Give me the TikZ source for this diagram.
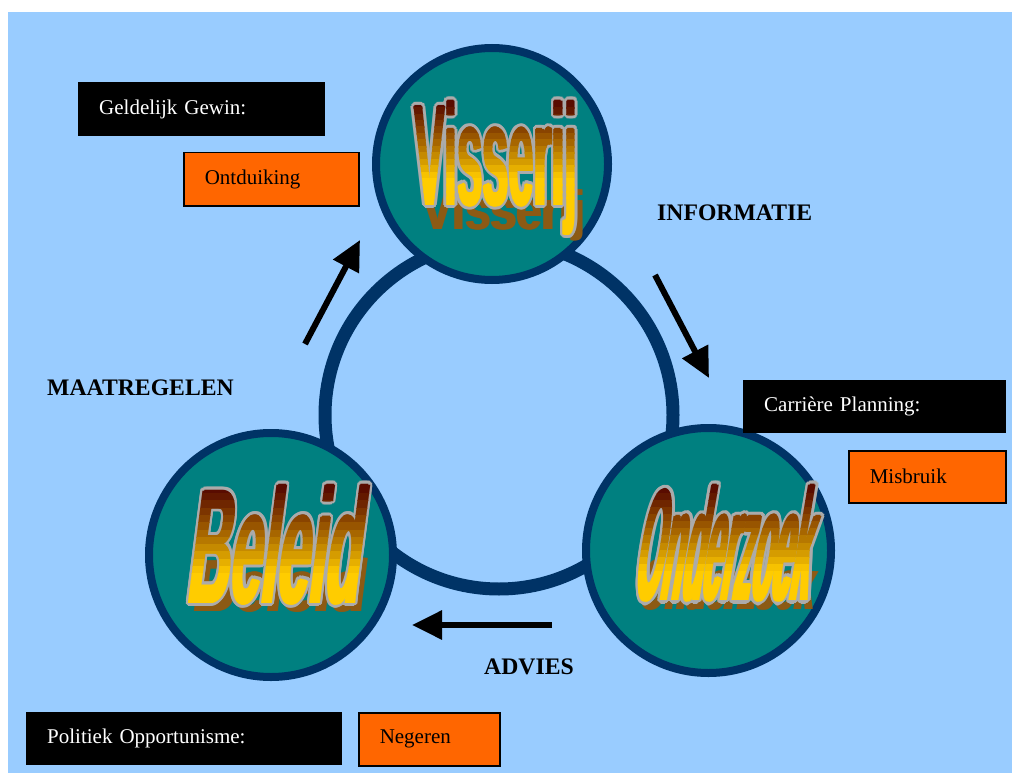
\documentclass[tikz,border=0pt]{standalone}
\usepackage{fontspec}
\setmainfont{Liberation Serif}
\newfontfamily\wafont{Liberation Sans}
\usetikzlibrary{arrows.meta,calc}

\definecolor{bgc}{HTML}{99CCFF}
\definecolor{ringc}{HTML}{003366}
\definecolor{tealc}{HTML}{008080}
\definecolor{wadark}{HTML}{550800}
\definecolor{wagold}{HTML}{FFCC00}
\definecolor{wagray}{HTML}{ABABAB}
\definecolor{washadow}{HTML}{8C5A14}
\definecolor{orangec}{HTML}{FF6600}

\newcommand{\watext}[3]{\scalebox{#1}[#2]{\wafont\bfseries\fontsize{40}{40}\selectfont #3}}
\def\wathick{1}

% #1 baseline centre, #2 xscale, #3 yscale, #4 slant, #5 text,
% #6 shadow dx, #7 shadow dy, #8 shadow y factor, #9 name prefix
\newcommand{\wordart}[9]{%
\begin{scope}[shift={(#1)}, xslant=#4]
  \pgfmathsetmacro\shy{#3*#8}
  \foreach \dx/\k in {-\wathick/a,0/b,\wathick/c}{
    \node[wanode, text=washadow] (#9-shadow-\k) at ($(#6,#7)+(\dx,0)$) {\watext{#2}{\shy}{#5}};
  }
  \pgfmathsetmacro\orad{\wathick+2.4}
  \foreach \a in {0,22.5,...,337.5}{
    \node[wanode, text=wagray] (#9-outline-\a) at (\a:\orad) {\watext{#2}{#3}{#5}};
  }
  \pgfmathsetmacro\H{28.64*#3}
  \foreach \i in {0,...,15}{
    \pgfmathsetmacro\ya{ifthenelse(\i==0, -\H-40, -\H+\i*\H/16-0.7)}
    \pgfmathsetmacro\yb{ifthenelse(\i==15, 80, -\H+(\i+1)*\H/16)}
    \pgfmathsetmacro\pc{100*min(1,pow((\i+0.5)/16/0.75,1.2))}
    \begin{scope}
      \clip (-240,\ya) rectangle (240,\yb);
      \foreach \ox/\oy/\k in {-\wathick/0/a,\wathick/0/b,0/-0.7/c,0/0.7/d,0/0/e}{
        \node[wanode, text=wagold!\pc!wadark] (#9-band-\i-\k) at (\ox,\oy) {\watext{#2}{#3}{#5}};
      }
    \end{scope}
  }
\end{scope}}

\tikzset{
  wanode/.style={anchor=base, inner sep=0pt, transform shape},
  bigcircle/.style={circle, fill=tealc, draw=ringc, line width=8pt, inner sep=0pt},
  bigarrow/.style={line width=6pt, -{Triangle[length=30pt,width=28pt]}},
  lbl/.style={anchor=base west, inner sep=0pt, font=\bfseries\fontsize{23.7}{26}\selectfont},
  blackbox/.style={anchor=north west, fill=black, text=white, inner xsep=21pt, inner ysep=0pt,
    align=left, font=\fontsize{21}{24}\selectfont},
  orangebox/.style={anchor=north west, fill=orangec, draw=black, line width=1.5pt, text=black,
    inner xsep=21pt, inner ysep=0pt, align=left, font=\fontsize{21}{24}\selectfont},
}

\begin{document}
\begin{tikzpicture}[x=1pt,y=-1pt]
\useasboundingbox (0,0) rectangle (1012,773);
\fill[white] (0,0) rectangle (1012,773);
\fill[bgc] (8,12) rectangle (1012,773);

% ring
\node[circle, draw=ringc, line width=13pt, minimum size=348pt, inner sep=0pt] (ring) at (499,415) {};

% circles
\node[bigcircle, minimum size=232pt] (visserij) at (492,164) {};
\node[bigcircle, minimum size=245pt] (onderzoek) at (708.5,550.5) {};
\node[bigcircle, minimum size=244pt] (beleid) at (271,555) {};

% word art
\def\wathick{1.2}
\wordart{496,205}{1.15}{3.6}{0}{Visserij}{8}{24}{0.38}{vis}
\def\wathick{1.6}
\wordart{720,600}{0.84}{3.98}{0.17}{Onderzoek}{6}{9}{0.45}{ond}
\def\wathick{1.3}
\wordart{272,603}{1.43}{4.08}{0.13}{Beleid}{7}{8}{0.45}{bel}

% arrows
\coordinate (maS) at (305,344);
\coordinate (maE) at (360,240);
\coordinate (inS) at (655,275);
\coordinate (inE) at (709,378);
\coordinate (adS) at (552,625);
\coordinate (adE) at (412,625);
\draw[bigarrow] (maS) -- (maE);
\draw[bigarrow] (inS) -- (inE);
\draw[bigarrow] (adS) -- (adE);

% labels
\node[lbl] (informatie) at (657,220) {INFORMATIE};
\node[lbl] (maatregelen) at (47,395) {MAATREGELEN};
\node[lbl] (advies) at (484,674) {ADVIES};

% boxes
\node[blackbox, text width=205pt, minimum height=54pt] (gewin) at (78,82) {Geldelijk Gewin:};
\node[orangebox, text width=133pt, minimum height=53pt] (ontduiking) at (183,152) {Ontduiking};
\node[blackbox, text width=221pt, minimum height=53pt] (carriere) at (743,380) {Carrière Planning:};
\node[orangebox, text width=115pt, minimum height=52pt] (misbruik) at (848,450) {Misbruik};
\node[blackbox, text width=274pt, minimum height=53pt] (politiek) at (26,712) {Politiek Opportunisme:};
\node[orangebox, text width=99pt, minimum height=53pt] (negeren) at (358,712) {Negeren};
\end{tikzpicture}
\end{document}
